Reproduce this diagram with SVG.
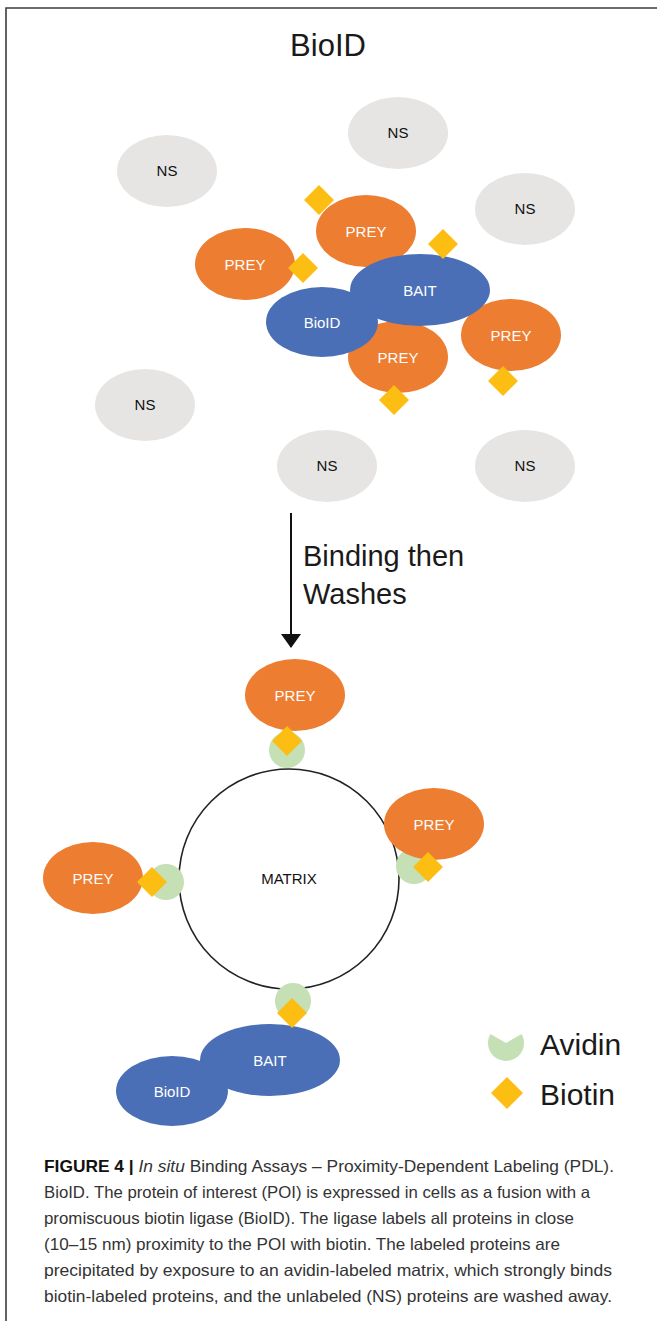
<svg xmlns="http://www.w3.org/2000/svg" width="657" height="1321" viewBox="0 0 657 1321">
<style>
.ns{fill:#e6e5e3}
.prey{fill:#ed7d31}
.blue{fill:#4a6fb6}
.bio{fill:#fdbe14}
.avi{fill:#c5e0b4}
.lbl{font-family:"Liberation Sans",Arial,sans-serif;font-size:15px;text-anchor:middle}
.w{fill:#ffffff}
.k{fill:#111111}
.big{font-family:"Liberation Sans",Arial,sans-serif;fill:#1a1a1a}
.cap{font-family:"Liberation Sans",Arial,sans-serif;font-size:16.5px;fill:#333333}
</style>
<defs>
<marker id="ah" markerWidth="14" markerHeight="20" refX="13" refY="10" orient="auto" markerUnits="userSpaceOnUse" viewBox="0 0 14 20">
<path d="M0,0 L14,10 L0,20 Z" fill="#111"/>
</marker>
</defs>
<rect width="657" height="1321" fill="#ffffff"/>
<path d="M6,1321 L6,8 L657,8" fill="none" stroke="#3c3c3c" stroke-width="1.6"/>
<text class="big" x="328" y="56" font-size="31" text-anchor="middle">BioID</text>

<g id="ns1"><ellipse class="ns" cx="398" cy="133" rx="50" ry="36"/><text class="lbl k" x="398" y="138">NS</text></g>
<g id="ns2"><ellipse class="ns" cx="167" cy="171" rx="50" ry="36"/><text class="lbl k" x="167" y="176">NS</text></g>
<g id="ns3"><ellipse class="ns" cx="525" cy="209" rx="50" ry="36"/><text class="lbl k" x="525" y="214">NS</text></g>
<g id="ns4"><ellipse class="ns" cx="145" cy="405" rx="50" ry="36"/><text class="lbl k" x="145" y="410">NS</text></g>
<g id="ns5"><ellipse class="ns" cx="327" cy="466" rx="50" ry="36"/><text class="lbl k" x="327" y="471">NS</text></g>
<g id="ns6"><ellipse class="ns" cx="525" cy="466" rx="50" ry="36"/><text class="lbl k" x="525" y="471">NS</text></g>

<g id="prey-top"><ellipse class="prey" cx="366" cy="231" rx="50" ry="36"/><text class="lbl w" x="366" y="237">PREY</text></g>
<g id="prey-left"><ellipse class="prey" cx="245" cy="264" rx="50" ry="36"/><text class="lbl w" x="245" y="270">PREY</text></g>
<g id="prey-bottom"><ellipse class="prey" cx="398" cy="357" rx="50" ry="36"/><text class="lbl w" x="398" y="363">PREY</text></g>
<g id="prey-right"><ellipse class="prey" cx="511" cy="335" rx="50" ry="36"/><text class="lbl w" x="511" y="341">PREY</text></g>
<g id="bait-top"><ellipse class="blue" cx="420" cy="290" rx="70" ry="36"/><text class="lbl w" x="420" y="296">BAIT</text></g>
<g id="bioid-top"><ellipse class="blue" cx="322" cy="322" rx="56" ry="35"/><text class="lbl w" x="322" y="328">BioID</text></g>

<g id="biotin-top">
<polygon class="bio" points="319,185 334,200 319,215 304,200"/>
<polygon class="bio" points="443,229 458,244 443,259 428,244"/>
<polygon class="bio" points="303,253 318,268 303,283 288,268"/>
<polygon class="bio" points="394,385 409,400 394,415 379,400"/>
<polygon class="bio" points="503,366 518,381 503,396 488,381"/>
</g>

<g id="connectors">
<line x1="291" y1="513" x2="291" y2="647" stroke="#111" stroke-width="2" marker-end="url(#ah)"/>
</g>
<text class="big" x="303" y="566" font-size="29">Binding then</text>
<text class="big" x="303" y="604" font-size="29">Washes</text>

<g id="matrix"><circle cx="289" cy="879" r="110" fill="none" stroke="#222" stroke-width="1.6"/><text class="lbl k" x="289" y="884" font-size="14">MATRIX</text></g>

<g id="avidin-matrix">
<circle class="avi" cx="287" cy="750" r="18"/>
<circle class="avi" cx="414" cy="866" r="18"/>
<circle class="avi" cx="166" cy="882" r="18"/>
<circle class="avi" cx="293" cy="1001" r="18"/>
</g>

<g id="prey-m-top"><ellipse class="prey" cx="295" cy="695" rx="50" ry="36"/><text class="lbl w" x="295" y="701">PREY</text></g>
<g id="prey-m-right"><ellipse class="prey" cx="434" cy="824" rx="50" ry="36"/><text class="lbl w" x="434" y="830">PREY</text></g>
<g id="prey-m-left"><ellipse class="prey" cx="93" cy="878" rx="50" ry="36"/><text class="lbl w" x="93" y="884">PREY</text></g>
<g id="bait-m"><ellipse class="blue" cx="270" cy="1060" rx="70" ry="36"/><text class="lbl w" x="270" y="1066">BAIT</text></g>
<g id="bioid-m"><ellipse class="blue" cx="172" cy="1091" rx="56" ry="35"/><text class="lbl w" x="172" y="1097">BioID</text></g>

<g id="biotin-matrix">
<polygon class="bio" points="287,726 302,741 287,756 272,741"/>
<polygon class="bio" points="428,852 443,867 428,882 413,867"/>
<polygon class="bio" points="152,867 167,882 152,897 137,882"/>
<polygon class="bio" points="292,998 307,1013 292,1028 277,1013"/>
</g>

<g id="legend">
<path class="avi" d="M506,1043 L490.4,1034 A18,18 0 1 0 521.6,1034 Z"/>
<text class="big" x="540" y="1055" font-size="30">Avidin</text>
<polygon class="bio" points="507,1077 523,1093 507,1109 491,1093"/>
<text class="big" x="540" y="1105" font-size="30">Biotin</text>
</g>

<g id="caption">
<text class="cap" x="44" y="1172" textLength="570" lengthAdjust="spacingAndGlyphs"><tspan font-weight="bold" fill="#111">FIGURE 4 |</tspan> <tspan font-style="italic">In situ</tspan> Binding Assays – Proximity-Dependent Labeling (PDL).</text>
<text class="cap" x="44" y="1198" textLength="546" lengthAdjust="spacingAndGlyphs">BioID. The protein of interest (POI) is expressed in cells as a fusion with a</text>
<text class="cap" x="44" y="1224" textLength="530" lengthAdjust="spacingAndGlyphs">promiscuous biotin ligase (BioID). The ligase labels all proteins in close</text>
<text class="cap" x="44" y="1250" textLength="516" lengthAdjust="spacingAndGlyphs">(10–15 nm) proximity to the POI with biotin. The labeled proteins are</text>
<text class="cap" x="44" y="1276" textLength="568" lengthAdjust="spacingAndGlyphs">precipitated by exposure to an avidin-labeled matrix, which strongly binds</text>
<text class="cap" x="44" y="1302" textLength="568" lengthAdjust="spacingAndGlyphs">biotin-labeled proteins, and the unlabeled (NS) proteins are washed away.</text>
</g>
</svg>
